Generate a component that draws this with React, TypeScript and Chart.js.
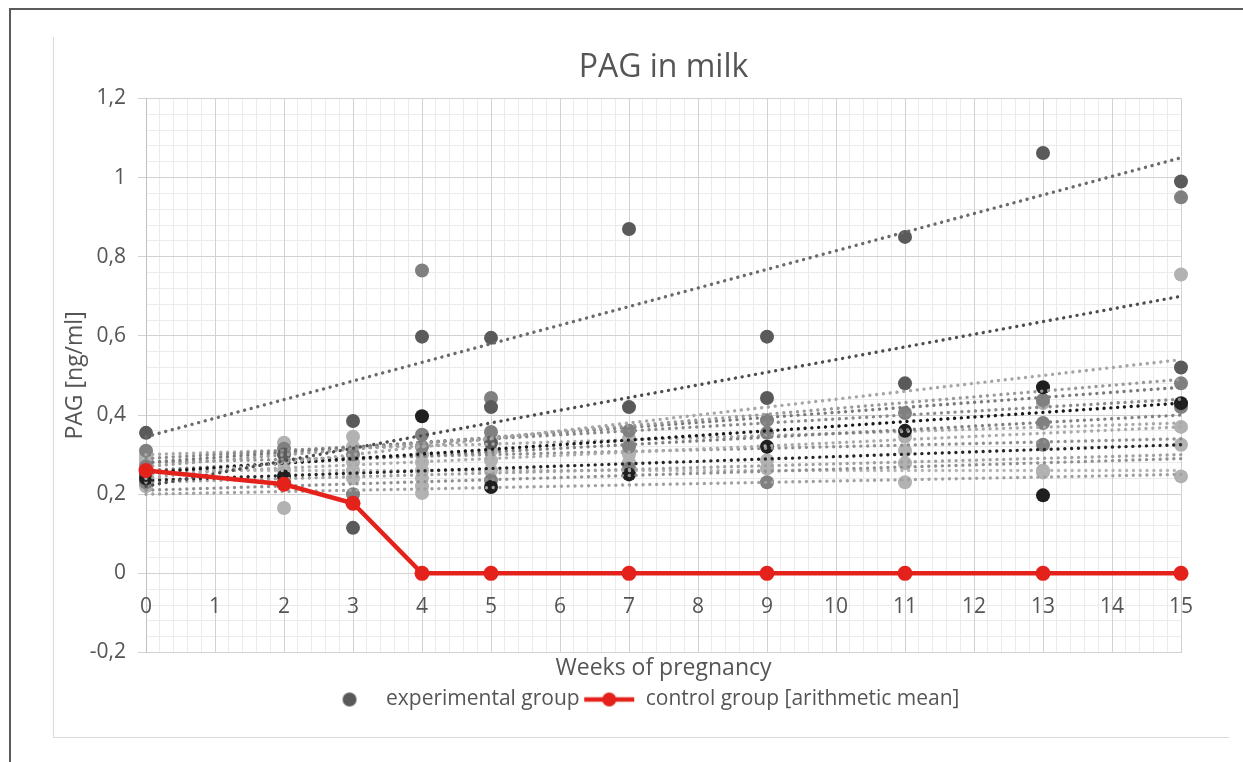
import React, { useEffect, useRef } from 'react';
import { Chart, registerables } from 'chart.js';

Chart.register(...registerables);

// ---- data ----
const controlWeeks = [0, 2, 3, 4, 5, 7, 9, 11, 13, 15];
const controlMean = [0.26, 0.225, 0.177, 0, 0, 0, 0, 0, 0, 0];

// experimental group: [week, PAG] grouped by marker shade
const expBlack: [number, number][] = [
  [0, 0.24], [2, 0.245], [4, 0.397], [5, 0.218], [7, 0.25], [9, 0.32],
  [11, 0.36], [13, 0.47], [13, 0.197], [15, 0.43],
];
const expDark: [number, number][] = [
  [0, 0.355], [0, 0.25], [2, 0.3], [3, 0.385], [3, 0.115], [4, 0.598],
  [5, 0.595], [5, 0.42], [5, 0.33], [7, 0.87], [7, 0.42], [9, 0.598],
  [9, 0.443], [11, 0.85], [11, 0.48], [13, 1.062], [15, 0.99], [15, 0.52],
];
const expMid: [number, number][] = [
  [0, 0.31], [0, 0.27], [0, 0.23], [2, 0.315], [2, 0.23], [3, 0.3], [3, 0.2],
  [4, 0.765], [4, 0.35], [4, 0.32], [5, 0.443], [5, 0.357], [5, 0.235],
  [7, 0.36], [7, 0.32], [7, 0.265], [9, 0.387], [9, 0.355], [9, 0.23],
  [11, 0.405], [13, 0.438], [13, 0.38], [13, 0.325], [15, 0.95], [15, 0.48], [15, 0.42],
];
const expLight: [number, number][] = [
  [0, 0.3], [0, 0.29], [0, 0.28], [0, 0.26], [0, 0.22], [2, 0.33], [2, 0.28],
  [2, 0.26], [2, 0.165], [3, 0.345], [3, 0.32], [3, 0.28], [3, 0.26], [3, 0.24],
  [4, 0.3], [4, 0.28], [4, 0.26], [4, 0.24], [4, 0.22], [4, 0.203], [5, 0.31],
  [5, 0.285], [5, 0.26], [7, 0.34], [7, 0.3], [7, 0.28], [9, 0.285], [9, 0.265],
  [11, 0.345], [11, 0.31], [11, 0.278], [11, 0.23], [13, 0.43], [13, 0.26],
  [13, 0.255], [15, 0.755], [15, 0.37], [15, 0.325], [15, 0.245],
];

// linear trend lines (value at week 0 and at week 15)
const trendWeeks = [0, 15];
const trendStart = [0.345, 0.22, 0.24, 0.27, 0.28, 0.29, 0.255, 0.26, 0.3, 0.25, 0.235, 0.28, 0.23, 0.21, 0.26, 0.2];
const trendEnd = [1.05, 0.7, 0.54, 0.49, 0.47, 0.44, 0.43, 0.4, 0.38, 0.37, 0.325, 0.34, 0.3, 0.29, 0.26, 0.25];

// ---- styles ----
const trendColors = [
  '#6a6a6a', '#4d4d4d', '#a6a6a6', '#9a9a9a', '#7a7a7a', '#8a8a8a', '#1a1a1a', '#808080',
  '#a8a8a8', '#aaaaaa', '#262626', '#8f8f8f', '#a0a0a0', '#909090', '#b5b5b5', '#a0a0a0',
];
const TEXT = '#555555';
const RED = '#e4221b';
const FONT = "'Open Sans', 'DejaVu Sans', sans-serif";

export default function App() {
  const ref = useRef<HTMLCanvasElement | null>(null);

  useEffect(() => {
    if (!ref.current) return;
    Chart.defaults.font.family = FONT;

    const expImg = document.createElement('canvas');
    expImg.width = 52; expImg.height = 16;
    {
      const c = expImg.getContext('2d')!;
      c.fillStyle = '#595959';
      c.beginPath(); c.arc(26, 8, 7, 0, Math.PI * 2); c.fill();
    }
    const ctrlImg = document.createElement('canvas');
    ctrlImg.width = 52; ctrlImg.height = 16;
    {
      const c = ctrlImg.getContext('2d')!;
      c.strokeStyle = RED; c.lineWidth = 4.5;
      c.beginPath(); c.moveTo(1, 8); c.lineTo(51, 8); c.stroke();
      c.fillStyle = RED;
      c.beginPath(); c.arc(26, 8, 7, 0, Math.PI * 2); c.fill();
    }

    const pts = (a: [number, number][]) => a.map(([x, y]) => ({ x, y }));
    const scatterSet = (label: string, data: [number, number][], color: string, order: number) => ({
      label, data: pts(data), showLine: false, pointRadius: 7, pointHoverRadius: 7,
      pointBackgroundColor: color, pointBorderWidth: 0, borderColor: color, backgroundColor: color,
      order, clip: false as any,
    });

    const trendSets = trendStart.map((s, i) => ({
      label: 'trend ' + (i + 1),
      data: [{ x: trendWeeks[0], y: s }, { x: trendWeeks[1], y: trendEnd[i] }],
      showLine: true, pointRadius: 0, borderColor: trendColors[i], borderWidth: 3.4,
      borderDash: [0.01, 6.8], borderCapStyle: 'round' as const, order: 2, clip: false as any,
    }));

    const chart = new Chart(ref.current, {
      type: 'scatter',
      data: {
        datasets: [
          {
            label: 'control group [arithmetic mean]',
            data: controlWeeks.map((w, i) => ({ x: w, y: controlMean[i] })),
            showLine: true, borderColor: RED, borderWidth: 4.5, pointRadius: 7.5,
            pointBackgroundColor: RED, pointBorderWidth: 0, order: 0, clip: false as any,
          },
          ...trendSets,
          scatterSet('experimental group', expBlack, '#1f1f1f', 3),
          scatterSet('experimental group', expDark, '#5a5a5a', 4),
          scatterSet('experimental group', expMid, '#808080', 5),
          scatterSet('experimental group', expLight, '#b2b2b2', 6),
        ] as any,
      },
      options: {
        animation: false,
        responsive: false,
        events: [],
        layout: { padding: { top: 0, bottom: 17, left: 0, right: 0 } },
        plugins: {
          title: {
            display: true, text: 'PAG in milk', fullSize: false, color: TEXT,
            font: { family: FONT, size: 32, weight: 'normal' },
            padding: { top: 12, bottom: 11 },
          },
          legend: {
            position: 'bottom',
            labels: {
              usePointStyle: true, pointStyleWidth: 52, boxHeight: 16, padding: 3.5,
              color: TEXT, font: { family: FONT, size: 21 },
              generateLabels: () => [
                { text: 'experimental group', pointStyle: expImg as any, fillStyle: '#595959', strokeStyle: 'transparent', lineWidth: 0, hidden: false, datasetIndex: trendSets.length + 2, fontColor: TEXT } as any,
                { text: 'control group [arithmetic mean]', pointStyle: ctrlImg as any, fillStyle: RED, strokeStyle: 'transparent', lineWidth: 0, hidden: false, datasetIndex: 0, fontColor: TEXT } as any,
              ],
            },
          },
          tooltip: { enabled: false },
        },
        scales: {
          xMinor: {
            type: 'linear', axis: 'x', position: 'top', min: 0, max: 15,
            ticks: { display: false, stepSize: 0.2 },
            grid: { color: '#ebebeb', drawTicks: false },
            border: { display: false },
          },
          yMinor: {
            type: 'linear', axis: 'y', position: 'right', min: -0.2, max: 1.2,
            ticks: { display: false, stepSize: 0.04 },
            grid: { color: '#ebebeb', drawTicks: false },
            border: { display: false },
            afterFit: (s: any) => { s.width = 48; },
          },
          x: {
            type: 'linear', position: 'bottom', min: 0, max: 15,
            ticks: { display: false, stepSize: 1 },
            grid: { color: '#d5d1d1', drawTicks: false },
            border: { display: false },
            title: { display: true, text: 'Weeks of pregnancy', color: TEXT, font: { family: FONT, size: 23 }, padding: { top: 0, bottom: 3 } },
            afterFit: (s: any) => { s.height = 33; },
          },
          y: {
            type: 'linear', position: 'left', min: -0.2, max: 1.2,
            ticks: {
              stepSize: 0.2, color: TEXT, font: { family: FONT, size: 21 }, padding: 12,
              callback: (v: any) => String(Math.round(Number(v) * 10) / 10).replace('.', ','),
            },
            grid: { color: '#d5d1d1', drawTicks: true, tickLength: 8 },
            border: { display: true, color: '#c4c0c0' },
            title: { display: true, text: 'PAG [ng/ml]', color: TEXT, font: { family: FONT, size: 23 }, padding: { top: 8, bottom: 0 } },
            afterFit: (s: any) => { s.width = 92; },
          },
          xLabels: {
            type: 'linear', axis: 'x', position: { y: 0 } as any, min: 0, max: 15,
            ticks: {
              stepSize: 1, color: TEXT, font: { family: FONT, size: 21 }, padding: 21,
              autoSkip: false, maxRotation: 0, callback: (v: any) => String(v),
            },
            grid: { display: false, drawTicks: false },
            border: { display: false },
          },
        } as any,
      },
    });
    return () => chart.destroy();
  }, []);

  return (
    <div style={{ position: 'absolute', left: 0, top: 0, width: 1243, height: 762, background: '#fff', overflow: 'hidden' }}>
      <div style={{ position: 'absolute', left: 9, top: 8, width: 1300, height: 800, borderTop: '2px solid #5b5b5b', borderLeft: '2px solid #5b5b5b' }} />
      <div style={{ position: 'absolute', left: 53, top: 37, width: 1175, height: 700, borderLeft: '1px solid #dadada', borderBottom: '1px solid #dadada' }}>
        <canvas ref={ref} width={1175} height={700} style={{ display: 'block', width: 1175, height: 700 }} />
      </div>
    </div>
  );
}
